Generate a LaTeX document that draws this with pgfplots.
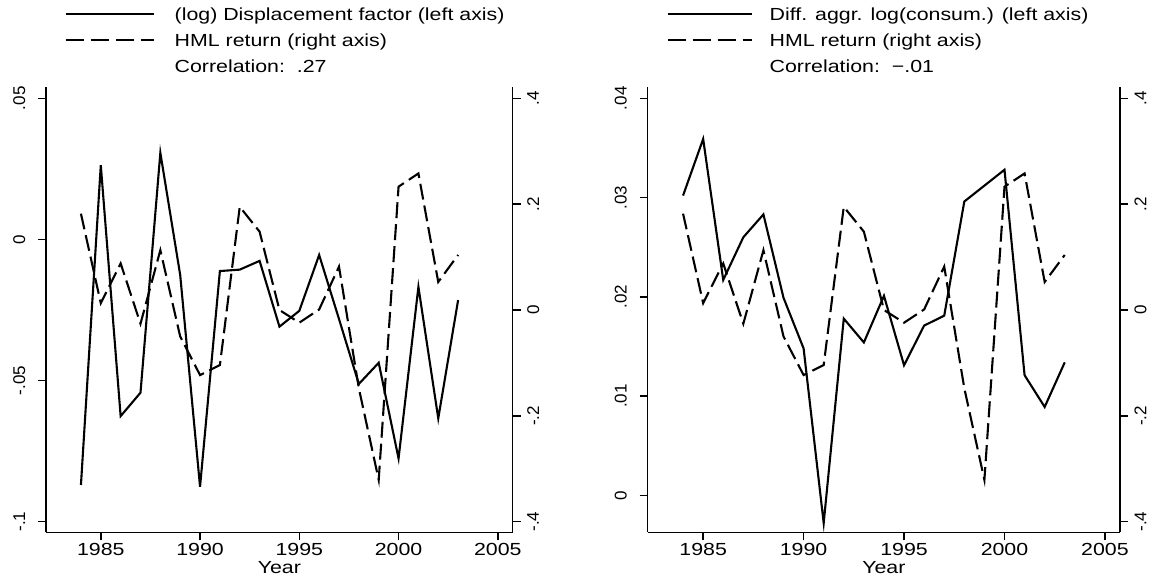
\documentclass[border=0pt]{standalone}
\usepackage{pgfplots}
\pgfplotsset{compat=1.18}
\usepackage{fontspec}
\setmainfont[FakeStretch=1.22]{Liberation Sans}
\newfontfamily\ylabfont{Liberation Sans}
\newcommand\tickfont{\fontsize{17.5}{20}\selectfont}
\newcommand\ytfont{\ylabfont\fontsize{17}{20}\selectfont}

\pgfplotstableread{
year disp hml cons
1984 -0.0870 0.182 0.0302
1985 0.0263 0.013 0.0359
1986 -0.0626 0.088 0.0217
1987 -0.0543 -0.026 0.0260
1988 0.0307 0.113 0.0283
1989 -0.0126 -0.050 0.0199
1990 -0.0876 -0.123 0.0148
1991 -0.0112 -0.104 -0.0028
1992 -0.0107 0.195 0.0178
1993 -0.0076 0.148 0.0154
1994 -0.0309 0.000 0.0201
1995 -0.0253 -0.024 0.0131
1996 -0.0055 0.001 0.0171
1997 -0.0282 0.082 0.0181
1998 -0.0512 -0.148 0.0296
1999 -0.0437 -0.321 0.0312
2000 -0.0776 0.233 0.0328
2001 -0.0168 0.258 0.0121
2002 -0.0634 0.053 0.0089
2003 -0.0215 0.104 0.0134
}\datatable

\pgfplotsset{
  base/.style={
    scale only axis, height=444.8pt,
    xmin=1982.24, xmax=2005.75,
    scaled y ticks=false, scaled x ticks=false,
    tick align=outside, major tick length=8pt,
    axis line style={line width=1.5pt, black},
    tick style={line width=1.5pt, black},
    xtick={1985,1990,1995,2000,2005},
    xticklabels={1985,1990,1995,2000,2005},
    xticklabel style={font=\tickfont, inner sep=0pt},
    xticklabel shift=3pt,
  },
  leftax/.style={
    base, axis x line*=bottom, axis y line*=left,
    yticklabel style={font=\ytfont, rotate=90, anchor=base, inner sep=0pt},
    yticklabel shift=13pt,
    xlabel={Year},
    xlabel style={at={(axis description cs:0.5,-0.0915)}, anchor=base, font=\tickfont},
  },
  rightax/.style={
    base, axis x line=none, axis y line*=right,
    ymin=-0.42003, ymax=0.42041,
    ytick={-0.4,-0.2,0,0.2,0.4},
    yticklabels={-.4,-.2,0,.2,.4},
    yticklabel style={font=\ytfont, rotate=90, anchor=north, inner sep=0pt},
    yticklabel shift=6.4pt,
    legend style={draw=none, fill=none, inner sep=0pt, font=\tickfont,
      row sep=10pt,
      nodes={inner sep=0pt, text height=14pt, text depth=2pt}},
    legend cell align=left,
  },
}

\begin{document}
\begin{tikzpicture}
\useasboundingbox (0pt,0pt) rectangle (1156pt,579pt);

% ---------- Left panel ----------
\begin{axis}[leftax, at={(46pt,46.7pt)}, anchor=south west, width=466.7pt,
  ymin=-0.10376, ymax=0.05383,
  ytick={-0.1,-0.05,0,0.05}, yticklabels={-.1,-.05,0,.05}]
\addplot[black, line width=2.1pt] table[x=year, y=disp] {\datatable};
\end{axis}
\begin{axis}[rightax, at={(46pt,46.7pt)}, anchor=south west, width=466.7pt,
  legend image code/.code={\draw[#1] (0pt,0pt) -- (88pt,0pt);},
  legend style={at={(axis description cs:0.0396,1.1832)}, anchor=north west, column sep=20pt}]
\addplot[black, line width=2.1pt, dash pattern=on 16pt off 6pt, forget plot] table[x=year, y=hml] {\datatable};
\addlegendimage{black, line width=2pt}
\addlegendentry{(log) Displacement factor (left axis)}
\addlegendimage{black, line width=2pt, dash pattern=on 18pt off 7pt}
\addlegendentry{HML return (right axis)}
\addlegendimage{empty legend}
\addlegendentry{Correlation:\ \ .27}
\end{axis}

% ---------- Right panel ----------
\begin{axis}[leftax, at={(647.7pt,46.7pt)}, anchor=south west, width=472.3pt,
  ymin=-0.003728, ymax=0.041088,
  ytick={0,0.01,0.02,0.03,0.04}, yticklabels={0,.01,.02,.03,.04}]
\addplot[black, line width=2.1pt] table[x=year, y=cons] {\datatable};
\end{axis}
\begin{axis}[rightax, at={(647.7pt,46.7pt)}, anchor=south west, width=472.3pt,
  legend image code/.code={\draw[#1] (0pt,0pt) -- (84pt,0pt);},
  legend style={at={(axis description cs:0.0398,1.1832)}, anchor=north west, column sep=17pt}]
\addplot[black, line width=2.1pt, dash pattern=on 16pt off 6pt, forget plot] table[x=year, y=hml] {\datatable};
\addlegendimage{black, line width=2pt}
\addlegendentry{Diff. aggr. log(consum.) (left axis)}
\addlegendimage{black, line width=2pt, dash pattern=on 18pt off 7pt}
\addlegendentry{HML return (right axis)}
\addlegendimage{empty legend}
\addlegendentry{Correlation:\ \ −.01}
\end{axis}
\end{tikzpicture}
\end{document}
